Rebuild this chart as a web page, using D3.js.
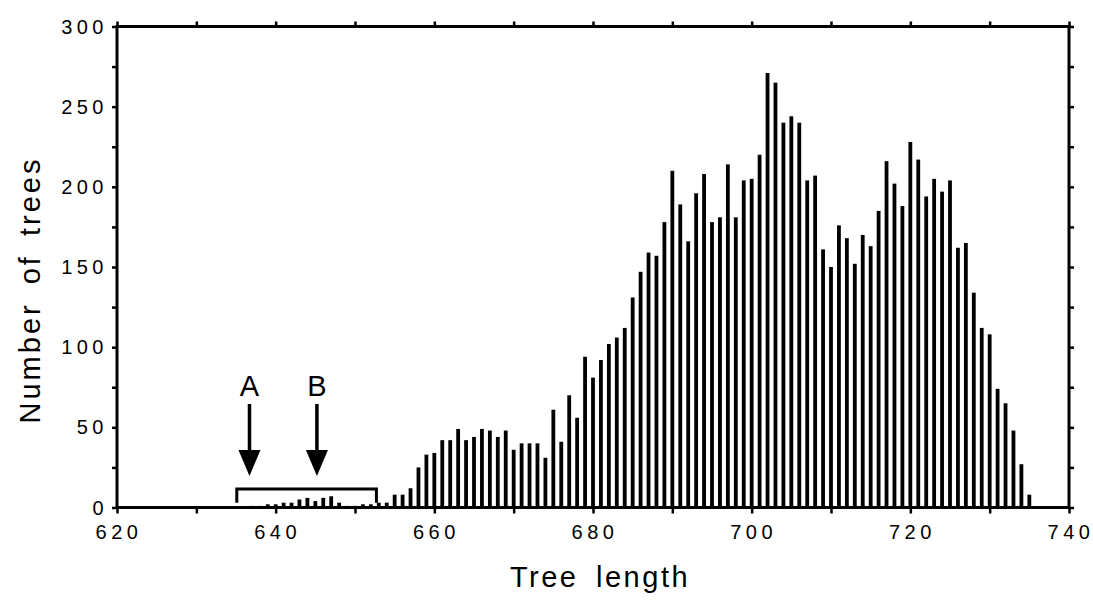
<!DOCTYPE html>
<html>
<head>
<meta charset="utf-8">
<script src="https://cdn.jsdelivr.net/npm/d3@7"></script>
<style>
  body { margin: 0; background: #fff; }
  text { font-family: "Liberation Sans", Arial, sans-serif; fill: #000; }
</style>
</head>
<body>
<div id="chart"></div>
<script>
// tree lengths and counts
const lengths = [637, 638, 639, 640, 641, 642, 643, 644, 645, 646, 647, 648, 649, 650, 651, 652, 653, 654,
  655, 656, 657, 658, 659, 660, 661, 662, 663, 664, 665, 666, 667, 668, 669, 670, 671, 672, 673, 674,
  675, 676, 677, 678, 679, 680, 681, 682, 683, 684, 685, 686, 687, 688, 689, 690, 691, 692, 693, 694,
  695, 696, 697, 698, 699, 700, 701, 702, 703, 704, 705, 706, 707, 708, 709, 710, 711, 712, 713, 714,
  715, 716, 717, 718, 719, 720, 721, 722, 723, 724, 725, 726, 727, 728, 729, 730, 731, 732, 733, 734, 735];
const counts = [1, 1, 2, 2, 3, 3, 5, 6, 4, 6, 7, 3, 1, 1, 2, 2, 3, 3,
  8, 8, 12, 25, 33, 34, 42, 42, 49, 42, 44, 49, 48, 44, 48, 36, 40, 40, 40, 31,
  61, 41, 70, 56, 94, 81, 92, 102, 106, 112, 131, 147, 159, 157, 178, 210, 189, 166, 196, 208,
  178, 181, 214, 181, 204, 205, 220, 271, 265, 240, 244, 240, 204, 207, 161, 150, 176, 168, 152, 170,
  163, 185, 216, 202, 188, 228, 217, 194, 205, 197, 204, 162, 165, 134, 112, 108, 74, 65, 48, 27, 8];

const xTickLabels = [620, 640, 660, 680, 700, 720, 740];
const yTickLabels = [0, 50, 100, 150, 200, 250, 300];

// annotations: arrows A and B, and the bracket under them
const arrowNames = ["A", "B"];
const arrowAt = [636.7, 645.2];
const bracketSpan = [635.1, 652.7];
const bracketTop = 11.5;

const width = 1093, height = 606;

const svg = d3.select("#chart").append("svg")
  .attr("width", width)
  .attr("height", height);

svg.append("rect").attr("width", width).attr("height", height).attr("fill", "#fff");

const x = d3.scaleLinear().domain([620, 740]).range([117, 1069]);
const y = d3.scaleLinear().domain([0, 300]).range([507.5, 26.5]);

// bars
svg.selectAll("rect.bar")
  .data(lengths)
  .enter().append("rect")
  .attr("class", "bar")
  .attr("x", d => x(d) - 1.9)
  .attr("width", 3.8)
  .attr("y", (d, i) => y(counts[i]))
  .attr("height", (d, i) => y(0) - y(counts[i]))
  .attr("fill", "#000");

// axes: every side gets outward ticks, only left and bottom carry labels
const minorX = d3.range(620, 741, 10);
const minorY = d3.range(0, 301, 25);

const axisB = svg.append("g").attr("transform", `translate(0,${y(0)})`)
  .call(d3.axisBottom(x).tickValues(minorX).tickSize(6).tickFormat(""));
const axisT = svg.append("g").attr("transform", `translate(0,${y(300)})`)
  .call(d3.axisTop(x).tickValues(minorX).tickSize(5).tickFormat(""));
const axisL = svg.append("g").attr("transform", `translate(${x(620)},0)`)
  .call(d3.axisLeft(y).tickValues(minorY).tickSize(5).tickFormat(""));
const axisR = svg.append("g").attr("transform", `translate(${x(740)},0)`)
  .call(d3.axisRight(y).tickValues(minorY).tickSize(5).tickFormat(""));

[axisB, axisT, axisL, axisR].forEach(g => {
  g.select(".domain").remove();
  g.selectAll(".tick line").attr("stroke", "#000").attr("stroke-width", 2.5);
});

// frame
svg.append("rect")
  .attr("x", x(620)).attr("y", y(300))
  .attr("width", x(740) - x(620)).attr("height", y(0) - y(300))
  .attr("fill", "none").attr("stroke", "#000").attr("stroke-width", 3);

// tick labels
svg.selectAll("text.xlab")
  .data(xTickLabels)
  .enter().append("text")
  .attr("class", "xlab")
  .attr("x", d => x(d) + 2)
  .attr("y", 539)
  .attr("text-anchor", "middle")
  .style("font-size", "20px")
  .style("letter-spacing", "4.5px")
  .text(d => d);

svg.selectAll("text.ylab")
  .data(yTickLabels)
  .enter().append("text")
  .attr("class", "ylab")
  .attr("x", 108)
  .attr("y", d => y(d) + 7)
  .attr("text-anchor", "end")
  .style("font-size", "20px")
  .style("letter-spacing", "4.5px")
  .text(d => d);

// axis titles
svg.append("text")
  .attr("x", 600).attr("y", 587)
  .attr("text-anchor", "middle")
  .style("font-size", "29px")
  .style("letter-spacing", "2.5px")
  .style("word-spacing", "7px")
  .text("Tree length");

svg.append("text")
  .attr("transform", "translate(40,290) rotate(-90)")
  .attr("text-anchor", "middle")
  .style("font-size", "29px")
  .style("letter-spacing", "3px")
  .style("word-spacing", "7px")
  .text("Number of trees");

// bracket
svg.append("path")
  .attr("d", `M${x(bracketSpan[0])},${y(3)} V${y(bracketTop)} H${x(bracketSpan[1])} V${y(3)}`)
  .attr("fill", "none").attr("stroke", "#000").attr("stroke-width", 3);

// arrows
const arrows = svg.selectAll("g.arrow")
  .data(arrowAt)
  .enter().append("g")
  .attr("class", "arrow")
  .attr("transform", d => `translate(${x(d)},0)`);

arrows.append("line")
  .attr("x1", 0).attr("x2", 0)
  .attr("y1", 404).attr("y2", 452)
  .attr("stroke", "#000").attr("stroke-width", 3.5);

arrows.append("path")
  .attr("d", "M-11,450 L11,450 L0,476 Z")
  .attr("fill", "#000");

arrows.append("text")
  .attr("x", 0).attr("y", 396)
  .attr("text-anchor", "middle")
  .style("font-size", "29px")
  .text((d, i) => arrowNames[i]);
</script>
</body>
</html>
